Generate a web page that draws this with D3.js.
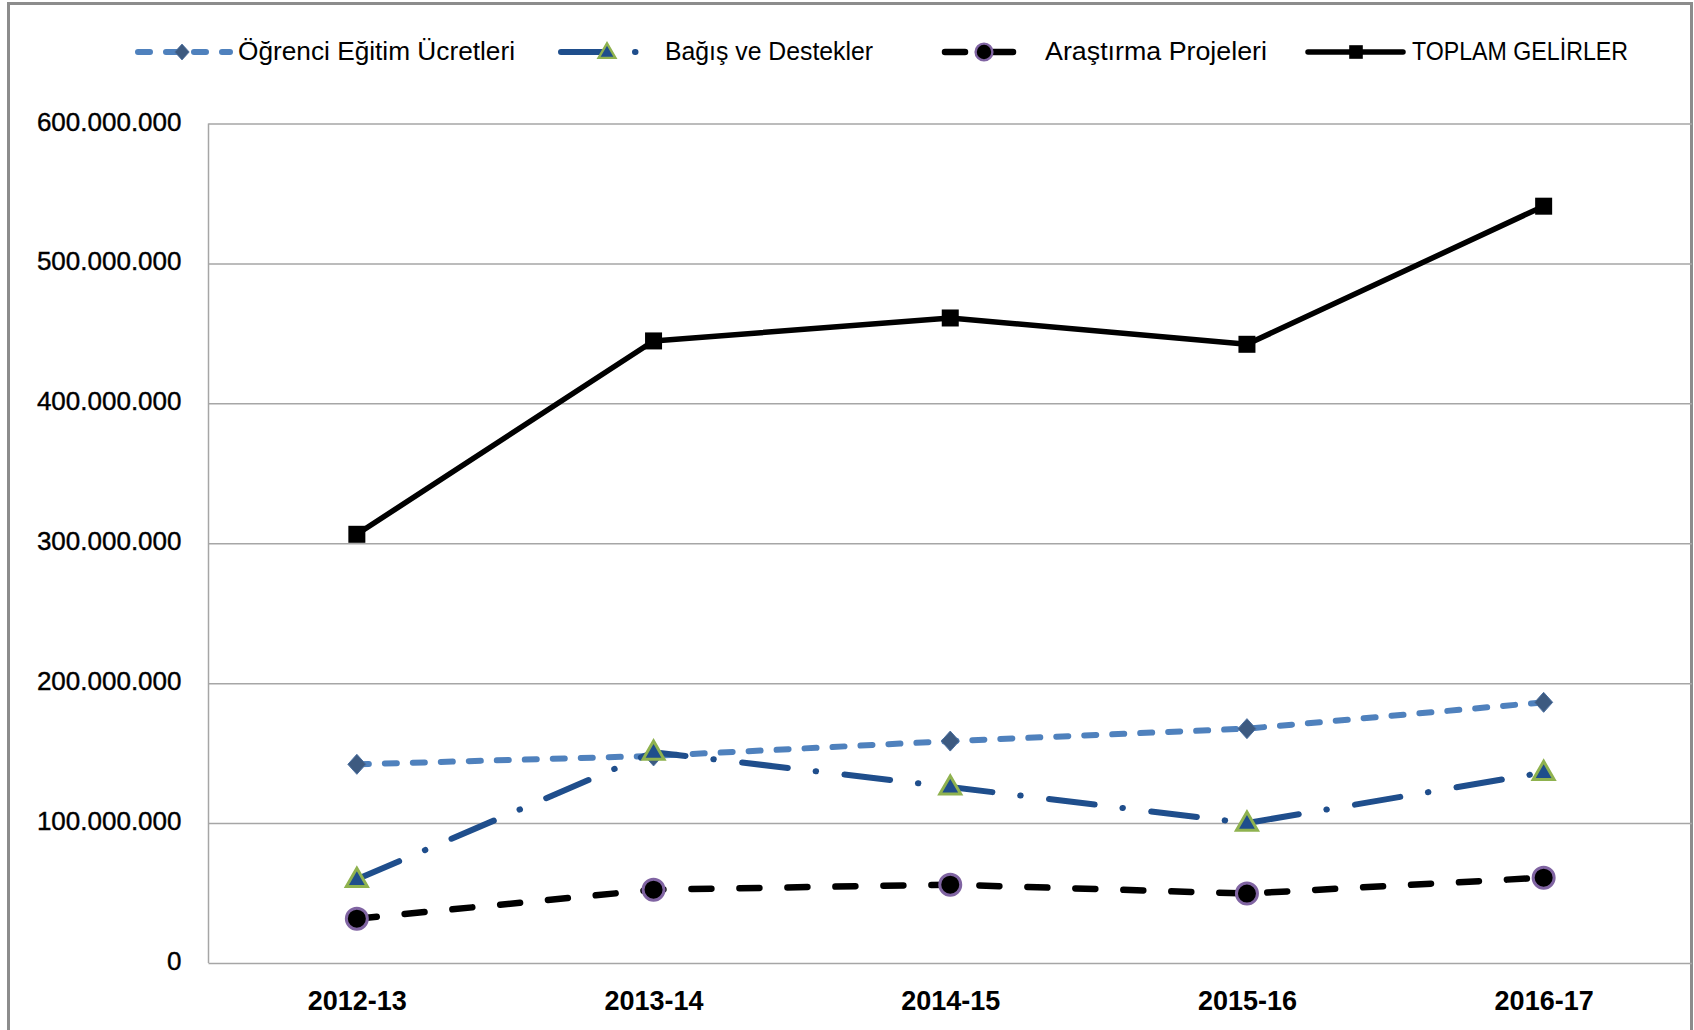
<!DOCTYPE html>
<html>
<head>
<meta charset="utf-8">
<script src="https://cdn.jsdelivr.net/npm/d3@7/dist/d3.min.js"></script>
<style>
  body { margin: 0; background: #fff; }
  text { font-family: "Liberation Sans", Arial, sans-serif; fill: #000; }
</style>
</head>
<body>
<svg width="1694" height="1030"></svg>
<script>
// values
const years = ['2012-13', '2013-14', '2014-15', '2015-16', '2016-17'];
const ogrenci = [142.0e6, 148.0e6, 158.6e6, 167.5e6, 186.3e6];
const bagis = [59.8e6, 150.7e6, 125.8e6, 100.0e6, 136.2e6];
const arastirma = [31.7e6, 52.4e6, 56.0e6, 49.6e6, 61.0e6];
const toplam = [306.4e6, 444.6e6, 461.0e6, 442.2e6, 540.9e6];
const yTicks = [0, 100e6, 200e6, 300e6, 400e6, 500e6, 600e6];
const seriesNames = ['Öğrenci Eğitim Ücretleri', 'Bağış ve Destekler', 'Araştırma Projeleri', 'TOPLAM GELİRLER'];

const svg = d3.select('svg');
const plot = { left: 208.5, right: 1692, top: 123.5, bottom: 963 };

const x = d3.scalePoint()
    .domain(years)
    .range([plot.left, plot.right])
    .padding(0.5);

const y = d3.scaleLinear()
    .domain([0, 600e6])
    .range([plot.bottom, plot.top]);

// outer frame
svg.append('rect')
    .attr('x', 8.5).attr('y', 3.5)
    .attr('width', 1683).attr('height', 1060)
    .attr('fill', 'none')
    .attr('stroke', '#8c8c8c')
    .attr('stroke-width', 3);

// gridlines + y labels
const yAxis = d3.axisLeft(y)
    .tickValues(yTicks)
    .tickSize(-(plot.right - plot.left))
    .tickPadding(27)
    .tickFormat(d => d3.format(',')(d).replace(/,/g, '.'));

const yg = svg.append('g')
    .attr('transform', `translate(${plot.left},0)`)
    .call(yAxis);
yg.select('.domain').remove();
yg.selectAll('.tick line').attr('stroke', '#a6a6a6').attr('stroke-width', 1.5);
yg.selectAll('.tick text')
    .attr('font-size', 26)
    .attr('font-family', '"Liberation Sans", Arial, sans-serif')
    .attr('fill', '#000')
    .attr('stroke', '#000')
    .attr('stroke-width', 0.4)
    .attr('dy', '0.25em');

// left edge of plot area
svg.append('line')
    .attr('x1', plot.left).attr('x2', plot.left)
    .attr('y1', plot.top).attr('y2', plot.bottom)
    .attr('stroke', '#a6a6a6').attr('stroke-width', 1.5);

// x labels
const xAxis = d3.axisBottom(x).tickSize(0).tickPadding(28);
const xg = svg.append('g')
    .attr('transform', `translate(0,${plot.bottom})`)
    .call(xAxis);
xg.select('.domain').remove();
xg.selectAll('.tick text')
    .attr('font-size', 27)
    .attr('font-weight', 'bold')
    .attr('font-family', '"Liberation Sans", Arial, sans-serif')
    .attr('fill', '#000');

const triangle = d3.symbol().type(d3.symbolTriangle).size(190);

const styles = [
    { values: ogrenci, color: '#4f81bd', width: 6, dash: '12,16', marker: 'diamond' },
    { values: bagis, color: '#1f4e8c', width: 6, dash: '46,28,0.5,28.5', marker: 'triangle' },
    { values: arastirma, color: '#000', width: 6.5, dash: '20,28', marker: 'circle' },
    { values: toplam, color: '#000', width: 5.5, dash: null, marker: 'square' }
];

function drawMarker(g, type, cx, cy, k = 1) {
    if (type === 'diamond') {
        g.append('path').attr('d', 'M0,-10L9,0L0,10L-9,0Z')
            .attr('transform', `translate(${cx},${cy}) scale(${k})`)
            .attr('fill', '#3d5a80').attr('stroke', '#4a6fa0').attr('stroke-width', 1);
    } else if (type === 'triangle') {
        g.append('path').attr('d', triangle)
            .attr('transform', `translate(${cx},${cy + 1}) scale(${k})`)
            .attr('fill', '#1f4e8c').attr('stroke', '#8fb24f').attr('stroke-width', 3);
    } else if (type === 'circle') {
        g.append('circle').attr('cx', cx).attr('cy', cy).attr('r', 10.5 * k)
            .attr('fill', '#000').attr('stroke', '#8064a2').attr('stroke-width', 3 * k);
    } else {
        g.append('rect').attr('x', cx - 8.5 * k).attr('y', cy - 8.5 * k)
            .attr('width', 17 * k).attr('height', 17 * k).attr('fill', '#000');
    }
}

const line = d3.line()
    .x((d, i) => x(years[i]))
    .y(d => y(d));

styles.forEach(s => {
    const g = svg.append('g');
    g.append('path')
        .datum(s.values)
        .attr('d', line)
        .attr('fill', 'none')
        .attr('stroke', s.color)
        .attr('stroke-width', s.width)
        .attr('stroke-linecap', s.dash ? 'round' : 'butt')
        .attr('stroke-linejoin', 'round')
        .attr('stroke-dasharray', s.dash);
    s.values.forEach((v, i) => drawMarker(g, s.marker, x(years[i]), y(v)));
});

// legend
const legendPos = [
    { x0: 138, x1: 230, mx: 182, tx: 238, tw: 277 },
    { x0: 561, x1: 645, mx: 607, tx: 665, tw: 208 },
    { x0: 945, x1: 1015, mx: 984, tx: 1045, tw: 222 },
    { x0: 1308, x1: 1403, mx: 1356, tx: 1412, tw: 216 }
];
const ly = 52;
seriesNames.forEach((name, i) => {
    const s = styles[i], p = legendPos[i];
    const g = svg.append('g');
    g.append('line')
        .attr('x1', p.x0).attr('x2', p.x1).attr('y1', ly).attr('y2', ly)
        .attr('stroke', s.color)
        .attr('stroke-width', s.width)
        .attr('stroke-linecap', 'round')
        .attr('stroke-dasharray', s.dash);
    drawMarker(g, s.marker, p.mx, ly, 0.8);
    g.append('text')
        .attr('x', p.tx).attr('y', ly + 8)
        .attr('font-size', 25)
        .attr('textLength', p.tw)
        .attr('lengthAdjust', 'spacingAndGlyphs')
        .text(name);
});
</script>
</body>
</html>
